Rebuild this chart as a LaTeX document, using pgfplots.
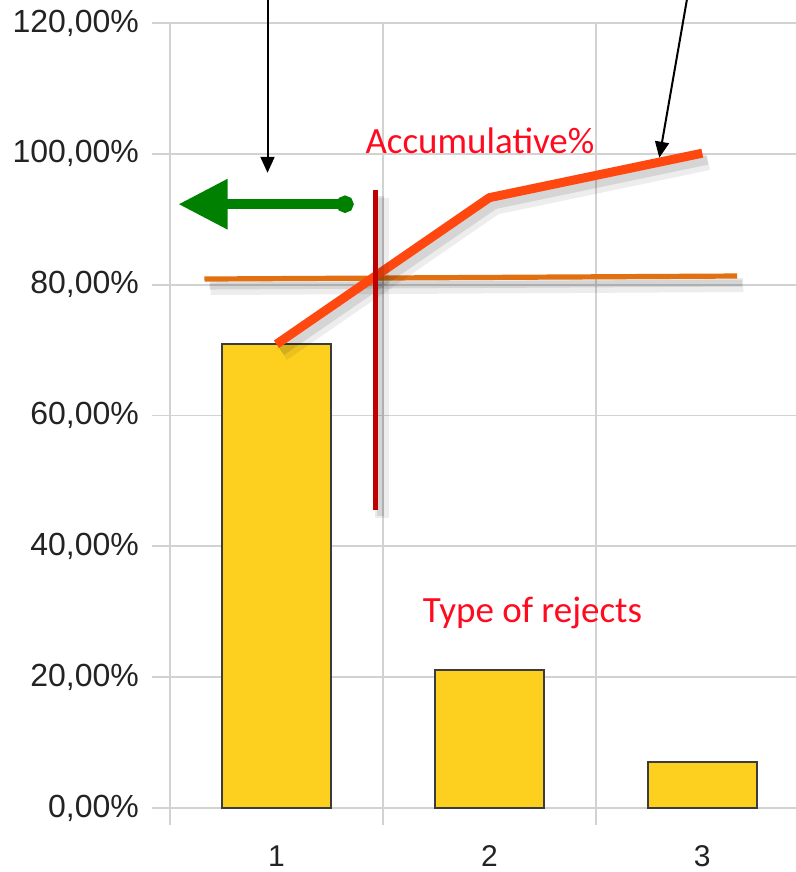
\documentclass[border=0pt]{standalone}
\usepackage{pgfplots}
\pgfplotsset{compat=1.18}
\usepackage{fontspec}
\setmainfont{Liberation Sans}
\newfontfamily\calibri{Carlito}
\usetikzlibrary{arrows.meta}
\definecolor{baryellow}{RGB}{253,208,32}
\definecolor{baredge}{RGB}{60,60,60}
\definecolor{cumred}{RGB}{255,72,16}
\definecolor{lineorange}{RGB}{226,112,16}
\definecolor{darkred}{RGB}{192,0,0}
\definecolor{arrowgreen}{RGB}{0,128,0}
\definecolor{gridgray}{RGB}{210,210,210}
\definecolor{labelgray}{RGB}{35,35,35}
\definecolor{txtred}{RGB}{255,10,30}
\begin{document}
\begin{tikzpicture}
\useasboundingbox (-85pt,-32pt) rectangle (313pt,404pt);
\begin{axis}[
  scale only axis, width=313pt, height=392.5pt,
  xmin=0.5, xmax=3.44, ymin=0, ymax=120,
  clip=false,
  axis line style={draw=none},
  xtick={1,2,3}, xticklabels={1,2,3},
  minor xtick={0.5,1.5,2.5},
  ytick={0,20,40,60,80,100,120},
  yticklabels={{0,00\%},{20,00\%},{40,00\%},{60,00\%},{80,00\%},{100,00\%},{120,00\%}},
  ymajorgrids, xminorgrids,
  grid style={gridgray, line width=0.9pt},
  minor grid style={gridgray, line width=0.9pt},
  tick align=outside, tick pos=left,
  major x tick style={draw=none},
  minor x tick style={gridgray, line width=0.9pt},
  y tick style={gridgray, line width=0.9pt},
  major tick length=9pt, minor tick length=8.5pt,
  ticklabel style={font=\fontsize{16}{19}\selectfont, text=labelgray},
  yticklabel style={xshift=-3pt},
  xticklabel style={inner sep=0pt, text depth=0pt, font=\fontsize{15}{18}\selectfont, yshift=-9.5pt},
]
% bars
\addplot[ybar, bar width=0.512, fill=baryellow, draw=baredge, line width=0.9pt]
  coordinates {(1,70.9) (2,21.1) (3,7.0)};
% orange 80% line with shadow
\addplot[black, opacity=0.07, line width=7pt, xshift=3pt, yshift=-4.5pt] coordinates {(0.662,80.86) (3.164,81.32)};
\addplot[black, opacity=0.1, line width=3.5pt, xshift=2.5pt, yshift=-3.5pt] coordinates {(0.662,80.86) (3.164,81.32)};
\addplot[lineorange, line width=2.6pt] coordinates {(0.662,80.86) (3.164,81.32)};
% cumulative line with shadow
\addplot[black, opacity=0.07, line width=8pt, xshift=3pt, yshift=-4.5pt, line join=round] coordinates {(1,70.9) (2,93.3) (3,100.1)};
\addplot[black, opacity=0.1, line width=4.5pt, xshift=2.5pt, yshift=-3.5pt, line join=round] coordinates {(1,70.9) (2,93.3) (3,100.1)};
\addplot[cumred, line width=4.5pt, line join=round] coordinates {(1,70.9) (2,93.3) (3,100.1)};
% red vertical line with shadow
\addplot[black, opacity=0.07, line width=7pt, xshift=3.5pt, yshift=-4pt] coordinates {(1.465,94.5) (1.465,45.6)};
\addplot[black, opacity=0.1, line width=3.5pt, xshift=2.5pt, yshift=-3pt] coordinates {(1.465,94.5) (1.465,45.6)};
\addplot[darkred, line width=2.6pt] coordinates {(1.465,94.5) (1.465,45.6)};
% green arrow
\addplot[arrowgreen, line width=4.7pt, arrows={Circle[length=8.5pt]-Triangle[length=24.5pt,width=24pt]}]
  coordinates {(1.362,92.3) (0.54,92.3)};
% black arrows
\addplot[black, line width=1pt, arrows={-Triangle[length=8pt,width=7pt]}] coordinates {(0.958,124) (0.958,97.1)};
\addplot[black, line width=1pt, arrows={-Triangle[length=8pt,width=7pt]}] coordinates {(2.93,124) (2.798,99.4)};
% texts
\node[anchor=base west, text=txtred, font=\calibri\fontsize{18.5}{22}\selectfont] at (axis cs:1.385,100.1) {Accumulative\%};
\node[anchor=base west, text=txtred, font=\calibri\fontsize{18.5}{22}\selectfont] at (axis cs:1.655,28.3) {Type of rejects};
\end{axis}
\end{tikzpicture}
\end{document}
